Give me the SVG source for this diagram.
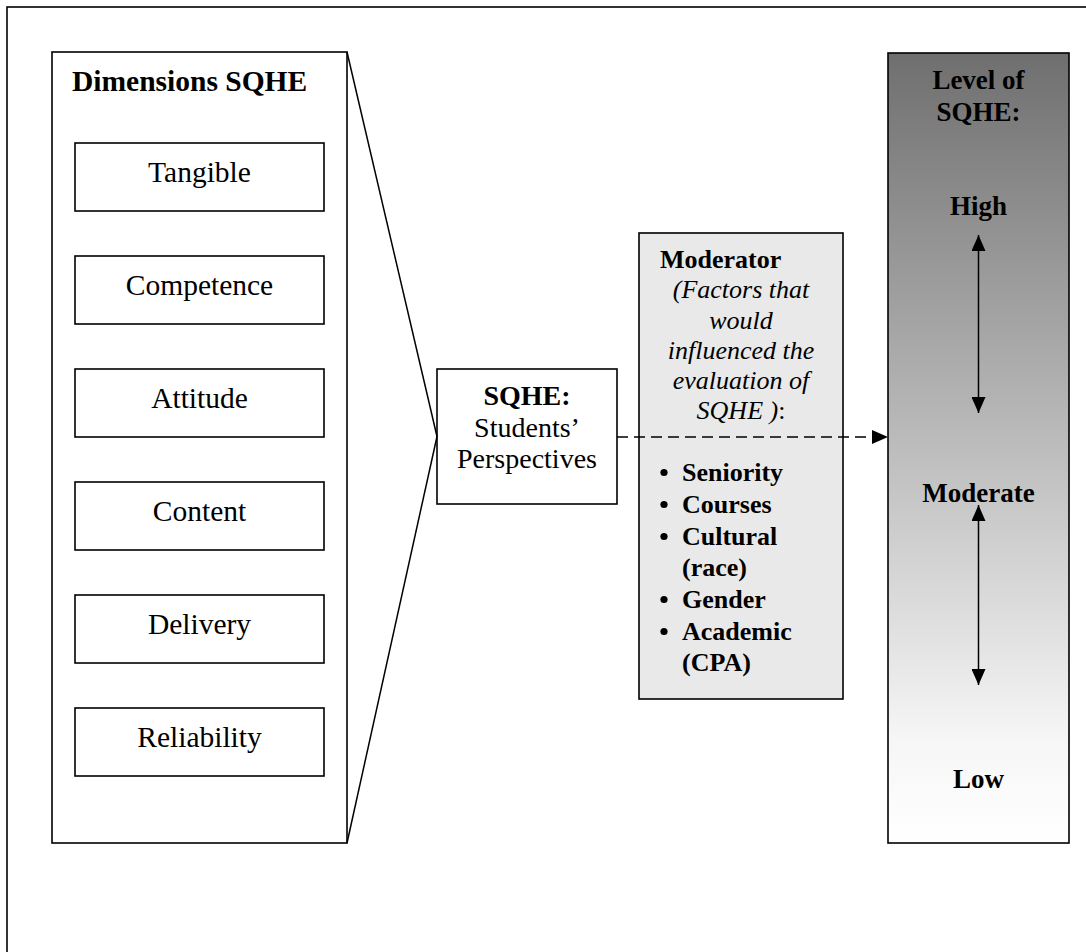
<svg xmlns="http://www.w3.org/2000/svg" width="1086" height="952" viewBox="0 0 1086 952">
  <style>
    text { font-family: "Liberation Serif", "Times New Roman", serif; fill: #000; }
    .box { fill: #fff; stroke: #000; stroke-width: 1.6; }
    .dim { font-size: 29.5px; text-anchor: middle; }
    .b { font-weight: bold; }
    .i { font-style: italic; }
    .mod { font-size: 26px; }
    .lvl { font-size: 27px; font-weight: bold; text-anchor: middle; }
    .line { stroke: #000; stroke-width: 1.5; fill: none; }
  </style>
  <defs>
    <linearGradient id="lvlGrad" x1="0" y1="0" x2="0" y2="1">
      <stop offset="0" stop-color="#6f6f6f"/>
      <stop offset="0.87" stop-color="#f6f6f6"/>
      <stop offset="1" stop-color="#ffffff"/>
    </linearGradient>
    <marker id="ah" viewBox="0 0 16 14" refX="16" refY="7" markerWidth="16" markerHeight="14" orient="auto-start-reverse" markerUnits="userSpaceOnUse">
      <path d="M0,0 L16,7 L0,14 Z" fill="#000"/>
    </marker>
  </defs>

  <rect x="0" y="0" width="1086" height="952" fill="#fff"/>
  <g id="frame">
    <rect x="7" y="7" width="1100" height="1000" fill="none" stroke="#000" stroke-width="1.6"/>
  </g>

  <g id="dimensions">
    <rect class="box" x="52" y="52" width="295" height="791"/>
    <text class="b" x="72" y="91" font-size="29.5">Dimensions SQHE</text>
  </g>
  <g id="tangible">
    <rect class="box" x="75" y="143" width="249" height="68"/>
    <text class="dim" x="199.5" y="182">Tangible</text>
  </g>
  <g id="competence">
    <rect class="box" x="75" y="256" width="249" height="68"/>
    <text class="dim" x="199.5" y="295">Competence</text>
  </g>
  <g id="attitude">
    <rect class="box" x="75" y="369" width="249" height="68"/>
    <text class="dim" x="199.5" y="408">Attitude</text>
  </g>
  <g id="content">
    <rect class="box" x="75" y="482" width="249" height="68"/>
    <text class="dim" x="199.5" y="521">Content</text>
  </g>
  <g id="delivery">
    <rect class="box" x="75" y="595" width="249" height="68"/>
    <text class="dim" x="199.5" y="634">Delivery</text>
  </g>
  <g id="reliability">
    <rect class="box" x="75" y="708" width="249" height="68"/>
    <text class="dim" x="199.5" y="747">Reliability</text>
  </g>

  <g id="sqhe">
    <rect class="box" x="437" y="369" width="180" height="135"/>
    <text x="527" y="405" font-size="28" text-anchor="middle" class="b">SQHE:</text>
    <text x="527" y="437" font-size="28" text-anchor="middle">Students’</text>
    <text x="527" y="468" font-size="28" text-anchor="middle">Perspectives</text>
  </g>

  <g id="moderator">
    <rect x="639" y="233" width="204" height="466" fill="#e9e9e9" stroke="#000" stroke-width="1.6"/>
    <text class="mod b" x="660" y="268">Moderator</text>
    <text class="mod i" x="741" y="298" text-anchor="middle">(Factors that</text>
    <text class="mod i" x="741" y="329" text-anchor="middle">would</text>
    <text class="mod i" x="741" y="359" text-anchor="middle">influenced the</text>
    <text class="mod i" x="741" y="389" text-anchor="middle">evaluation of</text>
    <text class="mod i" x="741" y="419" text-anchor="middle">SQHE )<tspan font-style="normal">:</tspan></text>
    <g fill="#000">
      <circle cx="664" cy="472.5" r="3.6"/>
      <circle cx="664" cy="504.5" r="3.6"/>
      <circle cx="664" cy="536.5" r="3.6"/>
      <circle cx="664" cy="599.5" r="3.6"/>
      <circle cx="664" cy="631.5" r="3.6"/>
    </g>
    <text class="mod b" x="682" y="481">Seniority</text>
    <text class="mod b" x="682" y="513">Courses</text>
    <text class="mod b" x="682" y="545">Cultural</text>
    <text class="mod b" x="682" y="576">(race)</text>
    <text class="mod b" x="682" y="608">Gender</text>
    <text class="mod b" x="682" y="640">Academic</text>
    <text class="mod b" x="682" y="671">(CPA)</text>
  </g>

  <g id="level">
    <rect x="888" y="53" width="181" height="790" fill="url(#lvlGrad)" stroke="#000" stroke-width="1.6"/>
    <text class="lvl" x="978.5" y="89">Level of</text>
    <text class="lvl" x="978.5" y="121">SQHE:</text>
    <text class="lvl" x="978.5" y="215">High</text>
    <text class="lvl" x="978.5" y="502">Moderate</text>
    <text class="lvl" x="978.5" y="788">Low</text>
  </g>

  <g id="connectors">
    <line class="line" x1="347" y1="52" x2="437" y2="436.5"/>
    <line class="line" x1="347" y1="843" x2="437" y2="436.5"/>
    <line class="line" x1="617" y1="437" x2="888" y2="437" stroke-dasharray="11 6" marker-end="url(#ah)"/>
    <line class="line" x1="978.5" y1="235" x2="978.5" y2="413" marker-start="url(#ah)" marker-end="url(#ah)"/>
    <line class="line" x1="978.5" y1="505" x2="978.5" y2="685" marker-start="url(#ah)" marker-end="url(#ah)"/>
  </g>
</svg>
